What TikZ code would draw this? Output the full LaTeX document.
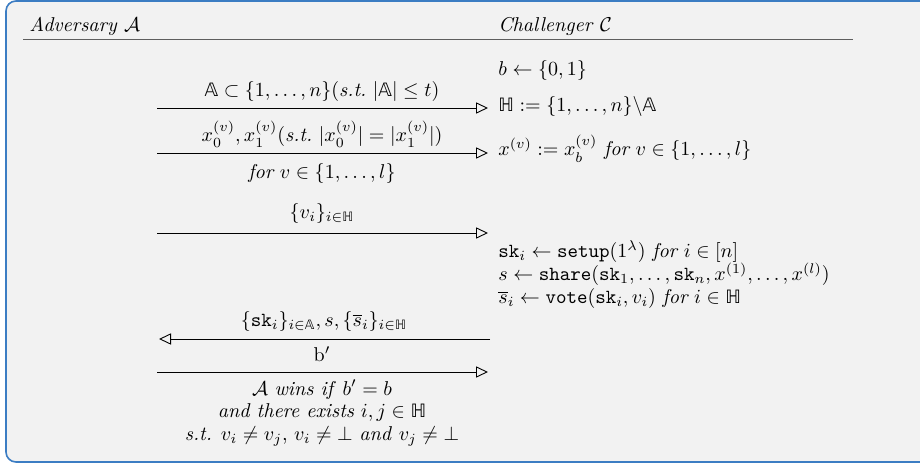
\documentclass[tikz,border=0pt]{standalone}
\usepackage{amsmath,amssymb}
\usepackage{fontspec}
\newfontfamily\dsfam{DejaVu Sans}
\newcommand{\dsA}{\text{\dsfam\fontsize{0.92em}{1em}\selectfont 𝔸}}
\newcommand{\dsH}{\text{\dsfam\fontsize{0.92em}{1em}\selectfont ℍ}}
\usetikzlibrary{arrows.meta}
\definecolor{boxfill}{HTML}{F2F2F2}
\definecolor{boxline}{HTML}{3C7DC3}
\definecolor{rulegray}{HTML}{5E5E5E}
\tikzset{
  lbl/.style={inner sep=0pt, anchor=base},
  lft/.style={inner sep=0pt, anchor=base west},
  msg/.style={-{Triangle[open,length=6pt,width=5.6pt]}, line width=0.45pt},
  headrule/.style={draw=rulegray, line width=0.8pt},
}
\begin{document}
\begin{tikzpicture}[x=0.5pt,y=-0.5pt]
\useasboundingbox (0,0) rectangle (920,464);
\path[draw=boxline, fill=boxfill, line width=0.8pt, rounded corners=5pt] (6,1) rectangle (940,462);
% headers
\node[lft] (hA) at (29,32) {\textit{Adversary} $\mathcal{A}$};
\node[lft] (hC) at (498,32) {\textit{Challenger} $\mathcal{C}$};
\coordinate (r1) at (23,39.5);
\coordinate (r2) at (853,39.5);
\draw[headrule] (r1) -- (r2);
% challenger column
\node[lft] (c1) at (498,76) {$b \leftarrow \{0,1\}$};
\node[lft] (c2) at (498,112) {$\dsH := \{1,\ldots,n\}\backslash\dsA$};
\node[lft] (c3) at (498,156) {$x^{(v)} := x_b^{(v)}\ \textit{for}\ v \in \{1,\ldots,l\}$};
\node[lft] (c4) at (498,258) {$\mathtt{sk}_i \leftarrow \mathtt{setup}(1^{\lambda})\ \textit{for}\ i\in[n]$};
\node[lft] (c5) at (498,281) {$s \leftarrow \mathtt{share}(\mathtt{sk}_1,\ldots,\mathtt{sk}_n,x^{(1)},\ldots,x^{(l)})$};
\node[lft] (c6) at (498,304) {$\overline{s}_i \leftarrow \mathtt{vote}(\mathtt{sk}_i,v_i)\ \textit{for}\ i\in\dsH$};
% messages
\coordinate (m1a) at (157,108); \coordinate (m1b) at (488,108);
\draw[msg] (m1a) -- (m1b);
\node[lbl] (l1) at (322,97) {$\dsA\subset\{1,\ldots,n\}(\textit{s.t.}\ |\dsA|\leq t)$};
\coordinate (m2a) at (157,153); \coordinate (m2b) at (488,153);
\draw[msg] (m2a) -- (m2b);
\node[lbl] (l2) at (322,142) {$x_0^{(v)},x_1^{(v)}(\textit{s.t.}\ |x_0^{(v)}|=|x_1^{(v)}|)$};
\node[lbl] (l2b) at (322,179) {$\textit{for}\ v\in\{1,\ldots,l\}$};
\coordinate (m3a) at (157,233); \coordinate (m3b) at (488,233);
\draw[msg] (m3a) -- (m3b);
\node[lbl] (l3) at (322,219) {$\{v_i\}_{i\in\dsH}$};
\coordinate (m4a) at (490,339); \coordinate (m4b) at (159,339);
\draw[msg] (m4a) -- (m4b);
\node[lbl] (l4) at (324,327) {$\{\mathtt{sk}_i\}_{i\in\dsA},s,\{\overline{s}_i\}_{i\in\dsH}$};
\coordinate (m5a) at (157,372); \coordinate (m5b) at (488,372);
\draw[msg] (m5a) -- (m5b);
\node[lbl] (l5) at (322,362) {$\mathrm{b}'$};
\node[lbl] (w1) at (322,395) {$\mathcal{A}$ \textit{wins if} $b'=b$};
\node[lbl] (w2) at (322,417) {\textit{and there exists} $i,j\in\dsH$};
\node[lbl] (w3) at (322,440) {\textit{s.t.} $v_i\neq v_j$, $v_i\neq\bot$ \textit{and} $v_j\neq\bot$};
\end{tikzpicture}
\end{document}
